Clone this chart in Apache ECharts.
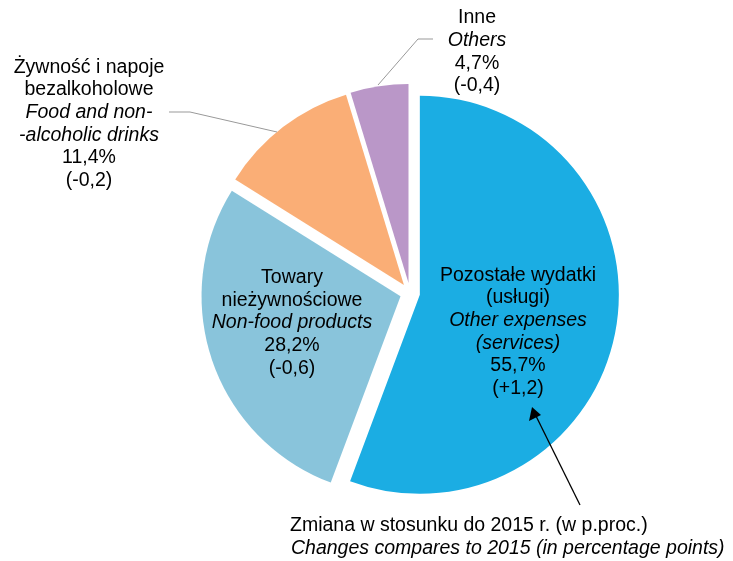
<!DOCTYPE html>
<html>
<head>
<meta charset="utf-8">
<script src="https://cdn.jsdelivr.net/npm/echarts@6/dist/echarts.min.js"></script>
<style>
  html, body { margin: 0; padding: 0; background: #fff; }
  #chart { width: 733px; height: 561px; }
</style>
</head>
<body>
<div id="chart"></div>
<script>
// dane: struktura wydatków, kolejność zgodnie z ruchem wskazówek zegara od godz. 12
const categories = ['Pozostałe wydatki (usługi)', 'Towary nieżywnościowe', 'Żywność i napoje bezalkoholowe', 'Inne'];
const plLabels = [['Pozostałe wydatki', '(usługi)'], ['Towary', 'nieżywnościowe'], ['Żywność i napoje', 'bezalkoholowe'], ['Inne']];
const enLabels = [['Other expenses', '(services)'], ['Non-food products'], ['Food and non-', '-alcoholic drinks'], ['Others']];
const shares = [55.7, 28.2, 11.4, 4.7];
const changes = ['+1,2', '-0,6', '-0,2', '-0,4'];
const colors = ['#1BADE3', '#89C4DB', '#FAAE76', '#BA97C8'];

// środek bloku tekstu każdej etykiety
const labelPos = [[518, 332], [292, 323], [89, 124], [477, 52]];

const fmt = v => v.toFixed(1).replace('.', ',');

const rich = {
    pl: { fontFamily: 'Liberation Sans', fontSize: 19.5, lineHeight: 22.6, fill: '#000', color: '#000' },
    en: { fontFamily: 'Liberation Sans', fontSize: 19.5, lineHeight: 22.6, fontStyle: 'italic', fill: '#000', color: '#000' }
};

function labelText(i) {
    const lines = [];
    plLabels[i].forEach(t => lines.push('{pl|' + t + '}'));
    enLabels[i].forEach(t => lines.push('{en|' + t + '}'));
    lines.push('{pl|' + fmt(shares[i]) + '%}');
    lines.push('{pl|(' + changes[i] + ')}');
    return lines.join('\n');
}

const labels = categories.map((c, i) => ({
    type: 'text',
    x: labelPos[i][0],
    y: labelPos[i][1],
    z: 100,
    style: { text: labelText(i), rich: rich, align: 'center', verticalAlign: 'middle' }
}));

const chart = echarts.init(document.getElementById('chart'));

chart.setOption({
    animation: false,
    series: [{
        type: 'pie',
        center: [410, 293],
        radius: 199,
        startAngle: 90,
        clockwise: true,
        selectedMode: 'multiple',
        selectedOffset: 10,
        emphasis: { disabled: true },
        select: { itemStyle: { borderWidth: 0 } },
        label: { show: false },
        labelLine: { show: false },
        data: categories.map((c, i) => ({
            name: c,
            value: shares[i],
            selected: true,
            itemStyle: { color: colors[i] }
        }))
    }],
    graphic: labels.concat([
        // linie odniesienia do etykiet zewnętrznych
        { type: 'polyline', z: 100, shape: { points: [[169, 112], [190, 112], [277, 132]] },
          style: { stroke: '#999', lineWidth: 1, fill: null } },
        { type: 'polyline', z: 100, shape: { points: [[433, 39], [418, 39], [378, 85]] },
          style: { stroke: '#999', lineWidth: 1, fill: null } },
        // strzałka do objaśnienia
        { type: 'line', z: 100, shape: { x1: 580, y1: 505, x2: 536, y2: 416 },
          style: { stroke: '#000', lineWidth: 1.3 } },
        { type: 'polygon', z: 100, shape: { points: [[532, 407], [529, 421], [541, 415]] },
          style: { fill: '#000' } },
        { type: 'text', z: 100, left: 290, top: 516,
          style: { text: 'Zmiana w stosunku do 2015 r. (w p.proc.)', font: '19.5px "Liberation Sans"', fill: '#000' } },
        { type: 'text', z: 100, left: 291, top: 539,
          style: { text: 'Changes compares to 2015 (in percentage points)', font: 'italic 19.5px "Liberation Sans"', fill: '#000' } }
    ])
});
</script>
</body>
</html>
